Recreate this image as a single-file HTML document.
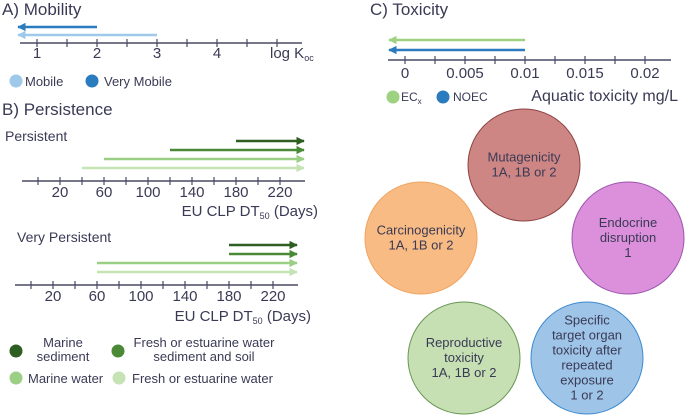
<!DOCTYPE html>
<html><head><meta charset="utf-8"><style>
html,body{margin:0;padding:0;background:#fff;width:685px;height:417px;overflow:hidden}
svg{display:block;font-family:"Liberation Sans",sans-serif}
text{fill:#3a3a55}
</style></head><body>
<svg id="c" width="685" height="417" viewBox="0 0 685 417">
<defs>
<marker id="ah" viewBox="0 0 10 10" refX="9" refY="5" markerWidth="3.2" markerHeight="3.2" orient="auto-start-reverse"><path d="M0,0L10,5L0,10z" fill="context-stroke"/></marker>
</defs>
<g id="g"></g>
</svg>
<script>
// Mobility
const mobCats=["Very Mobile","Mobile"];
const mobVals=[2,3];
const mobTicks=[1,2,3,4];
const mobColors=["#2b7bbf","#9ec9ea"];
// Persistence
const persCats=["Marine sediment","Fresh or estuarine water sediment and soil","Marine water","Fresh or estuarine water"];
const persVals=[180,120,60,40];
const vpersVals=[180,180,60,60];
const persEnd=240;
const persTicks=[20,60,100,140,180,220];
const persColors=["#2f5e22","#4a8a36","#9ccf86","#c5e3b5"];
// Toxicity
const toxCats=["ECx","NOEC"];
const toxVals=[0.01,0.01];
const toxTicks=[0,0.005,0.01,0.015,0.02];
const toxTickLabels=["0","0.005","0.01","0.015","0.02"];
const toxColors=["#9ed281","#2b7bbf"];

const NS="http://www.w3.org/2000/svg",G=document.getElementById('g');
function el(t,a,txt){const e=document.createElementNS(NS,t);for(const k in a)e.setAttribute(k,a[k]);if(txt!=null)e.textContent=txt;G.appendChild(e);return e;}
function axisLine(x1,x2,y,ticks){
 const l=el('line',{x1,x2,y1:y,y2:y,stroke:'#4a4a66','stroke-width':1.5});
 
 
 ticks.forEach(x=>{const t=el('line',{x1:x,x2:x,y1:y-4,y2:y+4,stroke:'#4a4a66','stroke-width':1.2});
  
  });
}
function arrow(x1,x2,y,c){const a=el('line',{x1,x2,y1:y,y2:y,stroke:c,'stroke-width':2.6,'marker-end':'url(#ah)'});return a;}
function txt(x,y,s,size,anchor){return el('text',{x,y,'font-size':size,'text-anchor':anchor||'start'},s);}
function dot(x,y,c){const d=el('circle',{cx:x,cy:y,r:6.5,fill:c});
 
 return d;}

// ---- A Mobility
let t=txt(2,15,"A)  Mobility",17);


const mx=v=>37+(v-1)*60;
let mt=[];for(let v=1;v<=5;v+=0.5)mt.push(mx(v));
axisLine(20,302,43,mt);
mobTicks.forEach(v=>{const e=txt(mx(v),58,String(v),15,'middle');
 
 });
t=el('text',{x:270,y:58,'font-size':15});t.innerHTML='log K<tspan font-size="9" dy="3">oc</tspan>';


mobVals.forEach((v,i)=>{const a=arrow(mx(v),18,27+i*8,mobColors[i]);
 
 });
dot(16,81,mobColors[1]);t=txt(25,86,"Mobile",13);


dot(92,81,mobColors[0]);t=txt(104,86,"Very Mobile",13);



// ---- B Persistence
t=txt(2,115,"B)  Persistence",17);


function persPanel(x0,ay,aStart,aEnd,vals,title,tx,ty,labY){
 const px=d=>x0+d*1.1;
 let tk=[];for(let d=0;d<=220;d+=20)tk.push(px(d));
 axisLine(aStart,aEnd,ay,tk);
 persTicks.forEach(d=>{const e=txt(px(d),ay+16,String(d),15,'middle');
  
  });
 vals.forEach((v,i)=>{const a=arrow(px(v),px(persEnd)+2,ay-40+i*9,persColors[i]);
  
  });
 const h=txt(tx,ty,title,14);
 
 
 const l=el('text',{x:px(240)+16,y:labY,'font-size':15,'text-anchor':'end'});
 l.innerHTML='EU CLP DT<tspan font-size="9" dy="3">50</tspan><tspan dy="-3"> (Days)</tspan>';
 
 
}
persPanel(38,181,22,305,persVals,"Persistent",5,141,216);
persPanel(31,285,15,298,vpersVals,"Very Persistent",17,242,321);
dot(16,351,persColors[0]);
t=txt(63,347,"Marine",13,'middle');
t=txt(63,361,"sediment",13,'middle');
dot(118,351,persColors[1]);
t=txt(204,347,"Fresh or estuarine water",13,'middle');
t=txt(204,361,"sediment and soil",13,'middle');
dot(16,378,persColors[2]);
t=txt(28,383,"Marine water",13);
dot(119,378,persColors[3]);
t=txt(132,383,"Fresh or estuarine water",13);

// ---- C Toxicity
t=txt(370,15,"C)  Toxicity",17);


const tx=v=>405+v*12000;
let tt=[];for(let k=0;k<=8;k++)tt.push(tx(k*0.0025));
axisLine(388,671,60,tt);
toxTicks.forEach((v,i)=>{const e=txt(tx(v),78,toxTickLabels[i],15,'middle');
 
 });
toxVals.forEach((v,i)=>{const a=arrow(tx(v),389,40+i*10,toxColors[i]);
 
 });
dot(393,97,toxColors[0]);
t=el('text',{x:401,y:101,'font-size':12});t.innerHTML='EC<tspan font-size="8" dy="3">x</tspan>';

dot(443,97,toxColors[1]);
t=txt(453,101,"NOEC",12);
t=txt(678,101,"Aquatic toxicity mg/L",16,'end');


// bubbles
const bubbles=[
 [524,165,"#ce8685","#8d4343",["Mutagenicity","1A, 1B or 2"],"mutagenicity-circle"],
 [421,238,"#f8bb83","#f0a460",["Carcinogenicity","1A, 1B or 2"],"carcinogenicity-circle"],
 [628,238,"#dc90dc","#9c55ae",["Endocrine","disruption","1"],"endocrine-circle"],
 [464,358,"#c6e0b3","#6a9653",["Reproductive","toxicity","1A, 1B or 2"],"reproductive-circle"],
 [587,358,"#9ec4e8","#3d89cf",["Specific","target organ","toxicity after","repeated","exposure","1 or 2"],"stot-circle"]];
bubbles.forEach(b=>{
 const c=el('circle',{cx:b[0],cy:b[1],r:56,fill:b[2],stroke:b[3],'stroke-width':1});
 
 
 const n=b[4].length,lh=15;
 b[4].forEach((s,i)=>{const e=txt(b[0],b[1]-(n-1)*lh/2+i*lh+4,s,13,'middle');
  
  });
});
</script>
</body></html>
